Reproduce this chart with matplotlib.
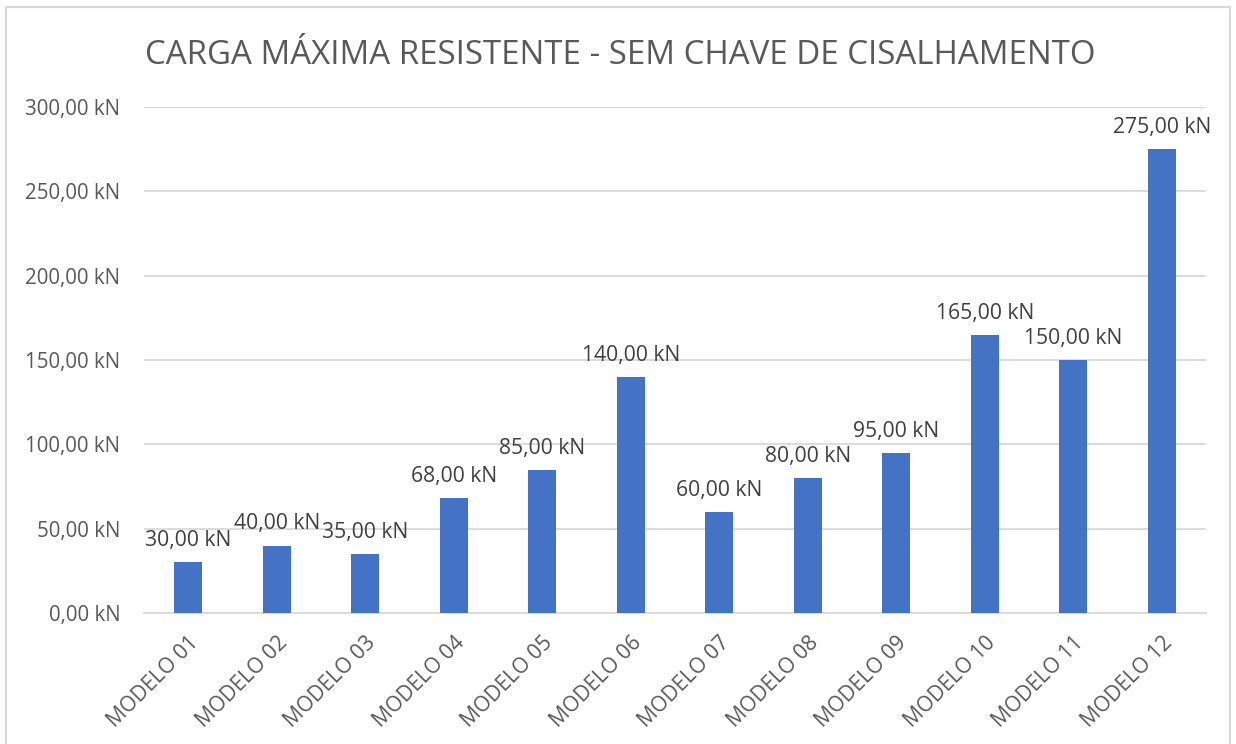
import matplotlib
matplotlib.use("Agg")
import matplotlib.pyplot as plt
from matplotlib.lines import Line2D

# Ultimate load per model (kN)
modelos = ["MODELO 01", "MODELO 02", "MODELO 03", "MODELO 04", "MODELO 05", "MODELO 06",
           "MODELO 07", "MODELO 08", "MODELO 09", "MODELO 10", "MODELO 11", "MODELO 12"]
carga_kn = [30, 40, 35, 68, 85, 140, 60, 80, 95, 165, 150, 275]
y_ticks = [0, 50, 100, 150, 200, 250, 300]

TITLE = "CARGA MÁXIMA RESISTENTE - SEM CHAVE DE CISALHAMENTO"
BAR_COLOR = "#4472C4"
TEXT_COLOR = "#595959"
GRID_COLOR = "#D9D9D9"

plt.rcParams["font.family"] = ["Open Sans", "DejaVu Sans"]

W, H = 1236, 744
fig = plt.figure(figsize=(W / 100, H / 100), dpi=100)
ax = fig.add_axes([144 / W, 1 - 613 / H, (1206 - 144) / W, (613 - 107) / H])


def fmt_kn(v):
    return f"{v:.2f}".replace(".", ",") + " kN"


x = list(range(len(modelos)))
bars = ax.bar(x, carga_kn, width=0.32, color=BAR_COLOR, zorder=3)

ax.set_xlim(-0.5, len(modelos) - 0.5)
ax.set_ylim(0, 300)
ax.set_yticks(y_ticks)
ax.set_yticklabels([fmt_kn(v) for v in y_ticks], color=TEXT_COLOR, fontsize=14.8)
ax.yaxis.grid(True, color=GRID_COLOR, linewidth=1.3, zorder=0)
ax.tick_params(axis="y", length=0, pad=17)
ax.tick_params(axis="x", length=0, pad=14)

ax.set_xticks(x)
ax.set_xticklabels(modelos, rotation=45, ha="right", rotation_mode="anchor",
                   color=TEXT_COLOR, fontsize=15.2)

for s in ["top", "right", "left"]:
    ax.spines[s].set_visible(False)
ax.spines["bottom"].set_color(GRID_COLOR)
ax.spines["bottom"].set_linewidth(1.3)

for xi, v in zip(x, carga_kn):
    ax.annotate(fmt_kn(v), (xi, v), xytext=(0, 8), textcoords="offset points",
                ha="center", va="bottom", color="#404040", fontsize=15.2)

fig.text(620 / W, 1 - 55 / H, TITLE, ha="center", va="center",
         color=TEXT_COLOR, fontsize=23.8)

# Chart frame
for (x0, y0, x1, y1) in [(6, 7, 1230, 7), (6, 7, 6, 744), (1230, 7, 1230, 744)]:
    fig.add_artist(Line2D([x0 / W, x1 / W], [1 - y0 / H, 1 - y1 / H],
                          transform=fig.transFigure, color=GRID_COLOR, linewidth=1.5))

fig.savefig("out.png", dpi=100)
